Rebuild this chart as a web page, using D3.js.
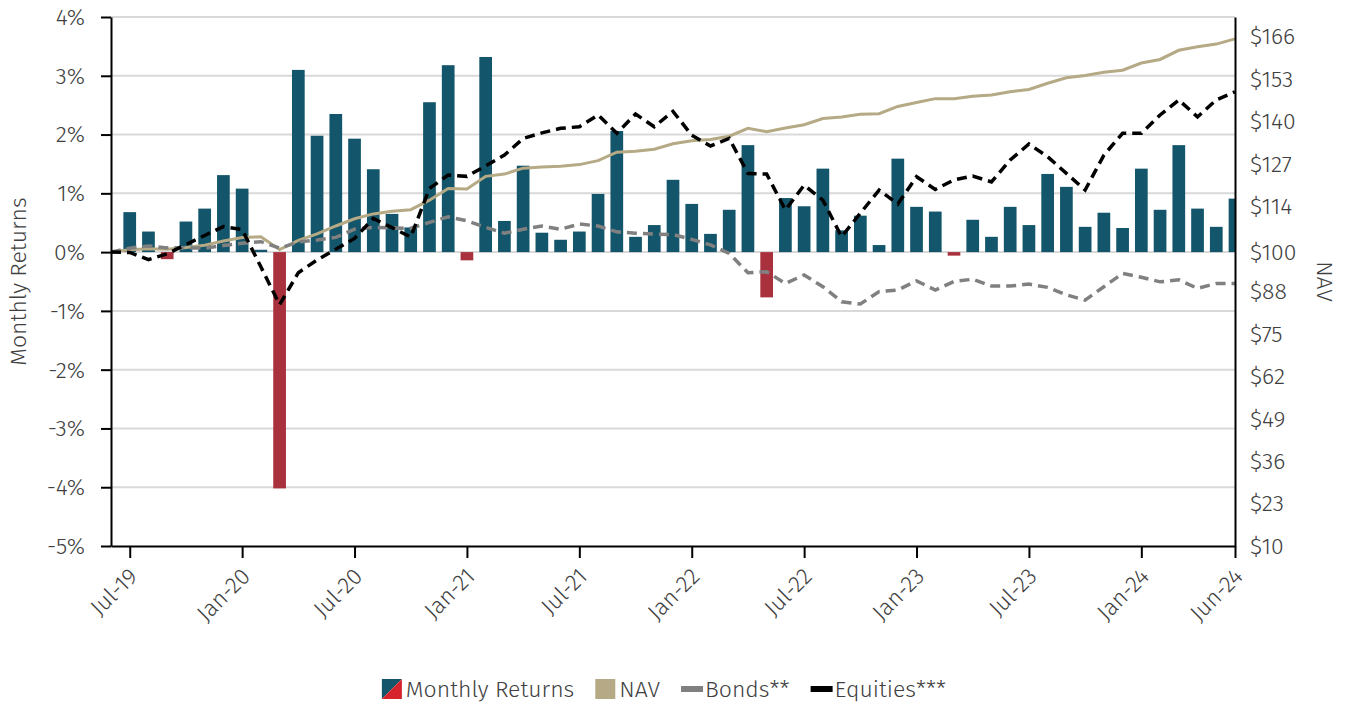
<!DOCTYPE html>
<html lang="en">
<head>
<meta charset="UTF-8"/>
<title>Monthly Returns and NAV</title>
<script src="https://d3js.org/d3.v7.min.js"></script>
<style>
    body { margin: 0; background: #fff; }
    svg text { font-family: "Fira Sans", "Open Sans", sans-serif; font-weight: 300; fill: #404040; }
</style>
</head>
<body>
<script>
    // Months Jun-19 .. Jun-24 (Jun-19 is the 100 base point)
    var months = [];
    var monthNames = ["Jan","Feb","Mar","Apr","May","Jun","Jul","Aug","Sep","Oct","Nov","Dec"];
    for (var y = 2019; y <= 2024; y++) {
        for (var m = 0; m < 12; m++) {
            if ((y == 2019 && m < 5) || (y == 2024 && m > 5)) continue;
            months.push(monthNames[m] + "-" + String(y).slice(2));
        }
    }

    // Monthly returns in %, Jul-19 .. Jun-24
    var returns = [0.68, 0.35, -0.12, 0.52, 0.74, 1.31, 1.08, 0.04, -4.02, 3.10,
                   1.98, 2.35, 1.93, 1.41, 0.65, 0.42, 2.55, 3.18, -0.14, 3.32,
                   0.53, 1.47, 0.33, 0.21, 0.35, 0.99, 2.06, 0.26, 0.46, 1.23,
                   0.82, 0.31, 0.72, 1.82, -0.77, 0.92, 0.78, 1.42, 0.37, 0.62,
                   0.12, 1.59, 0.77, 0.69, -0.06, 0.55, 0.26, 0.77, 0.46, 1.33,
                   1.11, 0.43, 0.67, 0.41, 1.42, 0.72, 1.82, 0.74, 0.43, 0.91];

    // NAV, Jun-19 .. Jun-24
    var nav = [100, 100.7, 101.0, 100.9, 101.4, 102.1, 103.4, 104.5, 104.7, 100.8, 103.6,
               105.6, 108.0, 110.2, 111.7, 112.5, 113.0, 115.9, 119.5, 119.3, 123.2,
               123.9, 125.7, 126.1, 126.3, 126.8, 128.0, 130.6, 130.9, 131.5, 133.2,
               134.1, 134.5, 135.5, 137.9, 136.9, 138.0, 139.0, 140.9, 141.4, 142.2,
               142.4, 144.6, 145.8, 147.0, 147.0, 147.7, 148.1, 149.1, 149.8, 151.7,
               153.4, 154.1, 155.1, 155.7, 157.9, 159.0, 161.8, 162.9, 163.7, 165.3];

    var bonds = [100, 101.2, 101.9, 101.3, 101.3, 101.2, 102.0, 102.7, 103.2, 101.2, 103.1,
                 103.7, 104.5, 107.0, 107.6, 107.4, 107.3, 109.1, 110.8, 109.6, 107.6,
                 105.8, 107.0, 108.0, 107.0, 108.6, 108.0, 106.2, 105.8, 105.5, 105.4,
                 103.9, 102.2, 99.6, 93.7, 94.0, 90.4, 93.0, 89.4, 84.8, 84.1,
                 87.9, 88.4, 91.2, 88.4, 91.0, 91.7, 89.6, 89.6, 90.2, 89.2,
                 86.9, 85.3, 89.4, 93.5, 92.3, 90.9, 91.5, 88.9, 90.4, 90.4];

    var equities = [100, 99.9, 97.7, 99.5, 102.3, 105.1, 107.8, 106.9, 95.5, 83.9, 93.7,
                    97.6, 100.9, 104.2, 110.3, 107.5, 104.6, 119.5, 123.6, 123.2, 126.4,
                    129.7, 134.8, 136.5, 137.9, 138.4, 142.0, 136.4, 142.3, 138.4, 143.1,
                    135.8, 132.5, 134.8, 124.1, 123.9, 112.9, 120.5, 115.9, 104.7, 111.9,
                    119.0, 114.7, 123.1, 119.2, 122.1, 123.3, 121.5, 128.2, 133.1, 129.2,
                    124.1, 119.0, 129.7, 136.4, 136.4, 142.0, 146.6, 141.4, 146.6, 149.1];

    var leftTicks = [-5, -4, -3, -2, -1, 0, 1, 2, 3, 4];
    var rightTicks = [10, 23, 36, 49, 62, 75, 88, 100, 114, 127, 140, 153, 166];
    var xTicks = ["Jul-19","Jan-20","Jul-20","Jan-21","Jul-21","Jan-22","Jul-22","Jan-23","Jul-23","Jan-24","Jun-24"];

    // Plot area
    var plotL = 111, plotR = 1235, plotT = 17, plotB = 546;

    var svg = d3.select("body")
                .append("svg")
                .attr("width", 1351)
                .attr("height", 706);

    var xScale = d3.scalePoint()
                   .domain(months)
                   .range([plotL, plotR]);

    var yLeft = d3.scaleLinear()
                  .domain([-5, 4])
                  .range([plotB, plotT]);

    var yRight = d3.scaleLinear()
                   .domain([10, 172])
                   .range([plotB, plotT]);

    svg.append("clipPath")
       .attr("id", "plot-clip")
       .append("rect")
       .attr("x", plotL).attr("y", plotT)
       .attr("width", plotR - plotL).attr("height", plotB - plotT);

    // Gridlines
    svg.append("g")
       .selectAll("line")
       .data(leftTicks.filter(function(d) { return d > -5; }))
       .enter()
       .append("line")
       .attr("x1", plotL).attr("x2", plotR)
       .attr("y1", function(d) { return yLeft(d); })
       .attr("y2", function(d) { return yLeft(d); })
       .attr("stroke", "#d9d9d9")
       .attr("stroke-width", 2);

    // Bars
    var barW = 12.7;
    svg.append("g")
       .attr("clip-path", "url(#plot-clip)")
       .selectAll("rect")
       .data(returns)
       .enter()
       .append("rect")
       .attr("x", function(d, i) { return xScale(months[i + 1]) - barW / 2; })
       .attr("y", function(d) { return yLeft(Math.max(0, d)); })
       .attr("width", barW)
       .attr("height", function(d) { return Math.abs(yLeft(d) - yLeft(0)); })
       .attr("fill", function(d) { return d < 0 ? "#a9313e" : "#13556a"; });

    // Lines
    var line = d3.line()
                 .x(function(d, i) { return xScale(months[i]); })
                 .y(function(d) { return yRight(d); });

    svg.append("path")
       .datum(nav)
       .attr("d", line)
       .attr("fill", "none")
       .attr("stroke", "#b5aa85")
       .attr("stroke-width", 3);

    svg.append("path")
       .datum(bonds)
       .attr("d", line)
       .attr("fill", "none")
       .attr("stroke", "#808080")
       .attr("stroke-width", 3.5)
       .attr("stroke-dasharray", "10,6");

    svg.append("path")
       .datum(equities)
       .attr("d", line)
       .attr("fill", "none")
       .attr("stroke", "#000")
       .attr("stroke-width", 3.5)
       .attr("stroke-dasharray", "10,6");

    // Axes
    var yAxisL = svg.append("g")
                    .attr("transform", "translate(" + plotL + ",0)")
                    .call(d3.axisLeft(yLeft)
                            .tickValues(leftTicks)
                            .tickFormat(function(d) { return d + "%"; })
                            .tickSize(10)
                            .tickSizeOuter(0)
                            .tickPadding(16));

    var yAxisR = svg.append("g")
                    .attr("transform", "translate(" + plotR + ",0)")
                    .call(d3.axisRight(yRight)
                            .tickValues(rightTicks)
                            .tickFormat(function(d) { return "$" + d; })
                            .tickSize(0)
                            .tickSizeOuter(0)
                            .tickPadding(15));

    var xAxis = svg.append("g")
                   .attr("transform", "translate(0," + plotB + ")")
                   .call(d3.axisBottom(xScale)
                           .tickValues(xTicks)
                           .tickSize(12)
                           .tickSizeOuter(0));

    xAxis.selectAll("text")
         .style("text-anchor", "end")
         .attr("x", 0)
         .attr("y", 0)
         .attr("dy", "0.35em")
         .attr("transform", "translate(3,26) rotate(-45)");

    [yAxisL, yAxisR, xAxis].forEach(function(g) {
        g.selectAll("path, line").attr("stroke", "#000").attr("stroke-width", 2);
        g.selectAll("text").style("font-size", "23px").attr("fill", "#404040");
    });

    // Axis titles
    svg.append("text")
       .attr("transform", "translate(26," + (plotT + plotB) / 2 + ") rotate(-90)")
       .attr("text-anchor", "middle")
       .style("font-size", "23px")
       .text("Monthly Returns");

    svg.append("text")
       .attr("transform", "translate(1317," + (plotT + plotB) / 2 + ") rotate(90)")
       .attr("text-anchor", "middle")
       .style("font-size", "23px")
       .text("NAV");

    // Legend
    var legendItems = [
        { name: "Monthly Returns", type: "split" },
        { name: "NAV", type: "square", color: "#b5aa85" },
        { name: "Bonds**", type: "bar", color: "#808080" },
        { name: "Equities***", type: "bar", color: "#000" }
    ];

    var legend = svg.append("g");
    var lx = 0;
    legendItems.forEach(function(item) {
        var g = legend.append("g").attr("transform", "translate(" + lx + ",0)");
        if (item.type == "split") {
            g.append("path").attr("d", "M0,0H20L0,20Z").attr("fill", "#13556a");
            g.append("path").attr("d", "M20,0V20H0Z").attr("fill", "#d7232b");
        } else if (item.type == "square") {
            g.append("rect").attr("width", 20).attr("height", 20).attr("fill", item.color);
        } else {
            g.append("rect").attr("y", 7).attr("width", 22).attr("height", 6).attr("fill", item.color);
        }
        var t = g.append("text")
                 .attr("x", 24)
                 .attr("y", 18)
                 .style("font-size", "23px")
                 .text(item.name);
        lx += 24 + t.node().getComputedTextLength() + 21;
    });
    lx -= 21;
    legend.attr("transform", "translate(" + (664 - lx / 2) + ",679)");
</script>
</body>
</html>
